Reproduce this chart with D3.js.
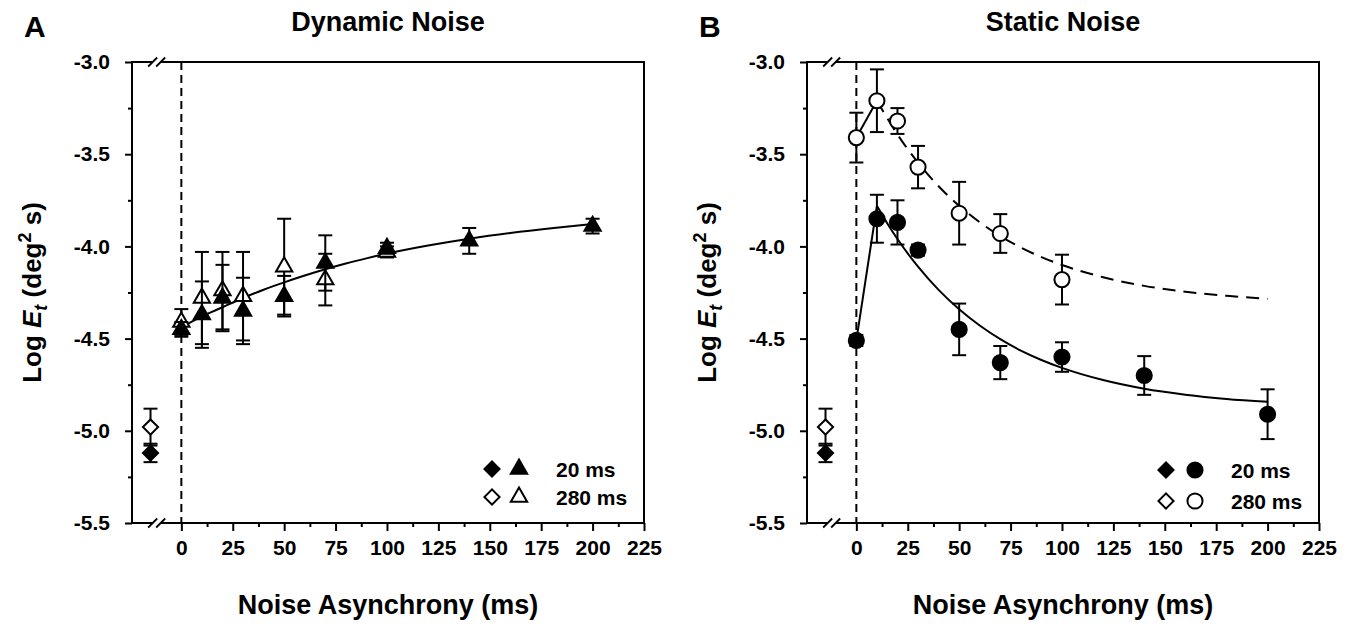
<!DOCTYPE html>
<html>
<head>
<meta charset="utf-8">
<script src="https://cdn.jsdelivr.net/npm/d3@7"></script>
<style>
  body { margin: 0; background: #fff; }
  text { font-family: Arial, "Liberation Sans", sans-serif; font-weight: bold; fill: #000; }
</style>
</head>
<body>
<script>
// ---- data ----
const xTickValues = [0, 25, 50, 75, 100, 125, 150, 175, 200, 225];
const yTickValues = [-3.0, -3.5, -4.0, -4.5, -5.0, -5.5];

const asyncAll = [0, 10, 20, 30, 50, 70, 100, 140, 200];
const asyncShort = [0, 10, 20, 30, 50, 70, 100];

// baseline (no noise) diamonds
const baselineX = -15;
const baseline20 = { y: -5.12, e: 0.05 };
const baseline280 = { y: -4.98, e: 0.10 };

// Panel A - dynamic noise
const dyn20Mean = [-4.45, -4.37, -4.28, -4.35, -4.27, -4.09, -4.01, -3.97, -3.89];
const dyn20Err = [0.04, 0.18, 0.18, 0.18, 0.11, 0.15, 0.03, 0.07, 0.04];
const dyn280Mean = [-4.41, -4.28, -4.24, -4.27, -4.11, -4.18, -4.03];
const dyn280Err = [0.07, 0.25, 0.21, 0.24, 0.26, 0.14, 0.03];

const dynFitX = [0, 10, 20, 30, 40, 50, 60, 70, 80, 90, 100, 120, 140, 160, 180, 200];
const dynFitY = [-4.44, -4.38, -4.33, -4.28, -4.235, -4.195, -4.158, -4.124, -4.093, -4.065, -4.039,
                 -3.995, -3.958, -3.927, -3.901, -3.879];

// Panel B - static noise
const stat20Mean = [-4.51, -3.85, -3.87, -4.02, -4.45, -4.63, -4.60, -4.70, -4.91];
const stat20Err = [0.03, 0.13, 0.12, 0.03, 0.14, 0.09, 0.08, 0.105, 0.135];
const stat280Mean = [-3.41, -3.21, -3.32, -3.57, -3.82, -3.93, -4.18];
const stat280Err = [0.135, 0.17, 0.07, 0.115, 0.17, 0.105, 0.135];

const stat20RiseX = [0, 10];
const stat20RiseY = [-4.51, -3.78];
const stat20FitX = [10, 15, 20, 30, 40, 50, 60, 70, 80, 90, 100, 120, 140, 160, 180, 200];
const stat20FitY = [-3.78, -3.874, -3.96, -4.11, -4.236, -4.341, -4.429, -4.503, -4.565, -4.616,
                    -4.659, -4.725, -4.772, -4.804, -4.827, -4.843];
const stat280RiseX = [0, 10];
const stat280RiseY = [-3.41, -3.21];
const stat280FitX = [10, 20, 30, 40, 50, 60, 70, 80, 90, 100, 120, 140, 160, 180, 200];
const stat280FitY = [-3.21, -3.393, -3.546, -3.674, -3.78, -3.869, -3.944, -4.006, -4.058, -4.101,
                     -4.167, -4.214, -4.246, -4.268, -4.284];

// ---- drawing ----
const W = 1358, H = 629;
const svg = d3.select("body").append("svg").attr("width", W).attr("height", H);

const plotW = 512, plotH = 461, plotTop = 62;

function zip(xs, ys) {
  return xs.map((x, i) => [x, ys[i]]);
}

function drawPanel(cfg) {
  const g = svg.append("g").attr("transform", "translate(" + cfg.left + "," + plotTop + ")");

  const x = d3.scaleLinear().domain([-24, 225]).range([0, plotW]);
  const y = d3.scaleLinear().domain([-5.5, -3.0]).range([plotH, 0]);

  // frame
  g.append("rect").attr("width", plotW).attr("height", plotH)
    .attr("fill", "none").attr("stroke", "#000").attr("stroke-width", 2);

  // x ticks
  const xMinor = xTickValues.slice(0, -1).map(d => d + 12.5);
  g.append("g").attr("transform", "translate(0," + plotH + ")")
    .call(d3.axisBottom(x).tickValues(xMinor).tickSize(4).tickFormat(""))
    .call(a => a.select(".domain").remove());
  const xa = g.append("g").attr("transform", "translate(0," + plotH + ")")
    .call(d3.axisBottom(x).tickValues(xTickValues).tickSize(8).tickPadding(9))
    .call(a => a.select(".domain").remove());
  xa.selectAll("text").style("font-size", "21px").style("font-family", null);

  // y ticks
  const yMinor = yTickValues.slice(0, -1).map(d => d - 0.25);
  g.append("g")
    .call(d3.axisLeft(y).tickValues(yMinor).tickSize(4).tickFormat(""))
    .call(a => a.select(".domain").remove());
  const ya = g.append("g")
    .call(d3.axisLeft(y).tickValues(yTickValues).tickSize(7).tickPadding(15)
      .tickFormat(d => d.toFixed(1)))
    .call(a => a.select(".domain").remove());
  ya.selectAll("text").style("font-size", "21px").style("font-family", null);
  g.selectAll(".tick line").attr("stroke-width", 2);

  // axis breaks
  const bx = x(-12);
  [0, plotH].forEach(by => {
    g.append("rect").attr("x", bx - 4).attr("y", by - 2).attr("width", 8).attr("height", 4).attr("fill", "#fff");
    [-4, 4].forEach(o => {
      g.append("line")
        .attr("x1", bx + o - 4.5).attr("y1", by + 4.5)
        .attr("x2", bx + o + 4.5).attr("y2", by - 4.5)
        .attr("stroke", "#000").attr("stroke-width", 1.8);
    });
  });

  // vertical dashed line at 0
  g.append("line").attr("x1", x(0)).attr("x2", x(0)).attr("y1", 0).attr("y2", plotH)
    .attr("stroke", "#000").attr("stroke-width", 2).attr("stroke-dasharray", "8,5");

  // fit curves
  const smooth = d3.line().x(d => x(d[0])).y(d => y(d[1])).curve(d3.curveMonotoneX);
  cfg.curves.forEach(c => {
    g.append("path").attr("d", smooth(c.pts))
      .attr("fill", "none").attr("stroke", "#000").attr("stroke-width", 2)
      .attr("stroke-dasharray", c.dash || null);
  });

  // error bars + markers
  const cap = 7;
  function series(xs, ys, es, symbolType, size, filled, rotate) {
    const s = g.append("g");
    xs.forEach((xv, i) => {
      const cx = x(xv), lo = y(ys[i] - es[i]), hi = y(ys[i] + es[i]);
      s.append("line").attr("x1", cx).attr("x2", cx).attr("y1", lo).attr("y2", hi)
        .attr("stroke", "#000").attr("stroke-width", 2);
      [lo, hi].forEach(yy => s.append("line").attr("x1", cx - cap).attr("x2", cx + cap)
        .attr("y1", yy).attr("y2", yy).attr("stroke", "#000").attr("stroke-width", 2));
    });
    xs.forEach((xv, i) => {
      s.append("path")
        .attr("d", d3.symbol().type(symbolType).size(size)())
        .attr("transform", "translate(" + x(xv) + "," + y(ys[i]) + ")" + (rotate ? " rotate(45)" : ""))
        .attr("fill", filled ? "#000" : "#fff")
        .attr("stroke", "#000").attr("stroke-width", 2);
    });
  }

  series([baselineX], [baseline280.y], [baseline280.e], d3.symbolSquare, 115, false, true);
  series([baselineX], [baseline20.y], [baseline20.e], d3.symbolSquare, 115, true, true);
  cfg.series.forEach(s => series(s.x, s.y, s.e, cfg.symbol, cfg.symbolSize, s.filled, false));

  // legend
  const lg = g.append("g").attr("transform", "translate(" + cfg.legendX + "," + cfg.legendY + ")");
  [["20 ms", true, 0], ["280 ms", false, cfg.legendGap]].forEach(([label, filled, dy]) => {
    lg.append("path").attr("d", d3.symbol().type(d3.symbolSquare).size(115)())
      .attr("transform", "translate(0," + dy + ") rotate(45)")
      .attr("fill", filled ? "#000" : "#fff").attr("stroke", "#000").attr("stroke-width", 2);
    lg.append("path").attr("d", d3.symbol().type(cfg.symbol).size(cfg.symbolSize)())
      .attr("transform", "translate(" + cfg.legendSym2 + "," + dy + ")")
      .attr("fill", filled ? "#000" : "#fff").attr("stroke", "#000").attr("stroke-width", 2);
    lg.append("text").attr("x", cfg.legendText).attr("y", dy).attr("dy", "0.36em")
      .style("font-size", "21px").text(label);
  });

  // titles and labels
  svg.append("text").attr("x", cfg.left + plotW / 2).attr("y", 31)
    .attr("text-anchor", "middle").style("font-size", "27px").text(cfg.title);
  svg.append("text").attr("x", cfg.left - 108).attr("y", 37)
    .style("font-size", "30px").text(cfg.letter);
  svg.append("text").attr("x", cfg.left + plotW / 2).attr("y", 614)
    .attr("text-anchor", "middle").style("font-size", "27px").text("Noise Asynchrony (ms)");

  const yl = svg.append("text")
    .attr("transform", "translate(" + (cfg.left - 91) + "," + (plotTop + plotH / 2) + ") rotate(-90)")
    .attr("text-anchor", "middle").style("font-size", "26px");
  yl.append("tspan").text("Log ");
  yl.append("tspan").style("font-style", "italic").text("E");
  yl.append("tspan").style("font-style", "italic").style("font-size", "18px").attr("dy", 6).text("t");
  yl.append("tspan").attr("dy", -6).text(" (deg");
  yl.append("tspan").style("font-size", "18px").attr("dy", -10).text("2");
  yl.append("tspan").attr("dy", 10).text(" s)");
}

drawPanel({
  left: 132, title: "Dynamic Noise", letter: "A",
  symbol: d3.symbolTriangle, symbolSize: 115,
  series: [
    { x: asyncShort, y: dyn280Mean, e: dyn280Err, filled: false },
    { x: asyncAll, y: dyn20Mean, e: dyn20Err, filled: true }
  ],
  curves: [{ pts: zip(dynFitX, dynFitY) }],
  legendX: 360, legendY: 407, legendGap: 28, legendSym2: 27, legendText: 64
});

drawPanel({
  left: 807, title: "Static Noise", letter: "B",
  symbol: d3.symbolCircle, symbolSize: 180,
  series: [
    { x: asyncShort, y: stat280Mean, e: stat280Err, filled: false },
    { x: asyncAll, y: stat20Mean, e: stat20Err, filled: true }
  ],
  curves: [
    { pts: zip(stat20RiseX, stat20RiseY) },
    { pts: zip(stat20FitX, stat20FitY) },
    { pts: zip(stat280RiseX, stat280RiseY) },
    { pts: zip(stat280FitX, stat280FitY), dash: "13,8" }
  ],
  legendX: 359, legendY: 408, legendGap: 31, legendSym2: 29, legendText: 65
});
</script>
</body>
</html>
